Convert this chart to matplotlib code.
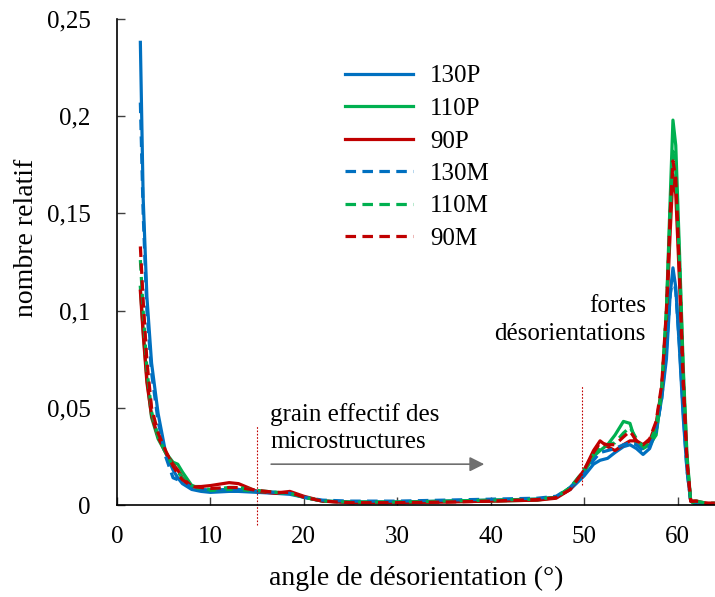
import matplotlib
matplotlib.use("Agg")
import matplotlib.pyplot as plt

plt.rcParams['font.family'] = ['Liberation Serif', 'DejaVu Serif']

angle = [2.5, 2.8, 3.2, 3.7, 4.4, 5.2, 6.0, 6.5, 7.0, 8.0, 9.0, 10, 12, 13, 15, 17, 18.5, 20,
         22, 25, 30, 35, 40, 45, 47, 48.5, 50, 51, 51.7, 52.5, 53.3, 54.2, 54.9, 55.6, 56.3,
         57, 57.7, 58.3, 58.8, 59.2, 59.5, 59.8, 60.2, 60.6, 61.0, 61.4, 62, 63, 64]

p130 = [0.238, 0.158, 0.107, 0.073, 0.047, 0.027, 0.018, 0.014, 0.011, 0.008, 0.007, 0.0065,
        0.007, 0.007, 0.0065, 0.006, 0.0055, 0.004, 0.002, 0.0015, 0.0015, 0.002, 0.0025,
        0.003, 0.004, 0.008, 0.015, 0.021, 0.023, 0.024, 0.027, 0.030, 0.031, 0.029, 0.026,
        0.029, 0.038, 0.055, 0.075, 0.108, 0.122, 0.112, 0.080, 0.045, 0.018, 0.002, 0, 0, 0]
p110 = [0.112, 0.090, 0.065, 0.045, 0.034, 0.027, 0.022, 0.021, 0.017, 0.010, 0.008, 0.0075,
        0.008, 0.008, 0.007, 0.0065, 0.006, 0.004, 0.002, 0.0015, 0.0015, 0.0018, 0.002,
        0.0025, 0.004, 0.009, 0.017, 0.025, 0.028, 0.031, 0.036, 0.043, 0.042, 0.031, 0.029,
        0.031, 0.036, 0.058, 0.100, 0.157, 0.198, 0.185, 0.130, 0.071, 0.026, 0.002, 0, 0, 0]
p90 = [0.110, 0.088, 0.063, 0.046, 0.035, 0.027, 0.021, 0.018, 0.014, 0.0095, 0.0095, 0.010,
       0.0115, 0.011, 0.007, 0.006, 0.007, 0.0045, 0.002, 0.0012, 0.0012, 0.0015, 0.002,
       0.0025, 0.0035, 0.008, 0.018, 0.028, 0.033, 0.030, 0.028, 0.031, 0.033, 0.033, 0.031,
       0.033, 0.042, 0.060, 0.095, 0.140, 0.170, 0.160, 0.115, 0.062, 0.022, 0.002, 0.002,
       0.001, 0]
m130 = [0.207, 0.150, 0.100, 0.068, 0.043, 0.025, 0.014, 0.013, 0.012, 0.009, 0.008, 0.0075,
        0.008, 0.008, 0.007, 0.0065, 0.006, 0.004, 0.0025, 0.002, 0.002, 0.0025, 0.003,
        0.0035, 0.0045, 0.009, 0.016, 0.023, 0.027, 0.028, 0.029, 0.031, 0.032, 0.031, 0.028,
        0.030, 0.038, 0.055, 0.080, 0.108, 0.118, 0.110, 0.082, 0.048, 0.018, 0.002, 0, 0, 0]
m110 = [0.126, 0.100, 0.070, 0.048, 0.035, 0.027, 0.020, 0.017, 0.014, 0.010, 0.0085, 0.008,
        0.009, 0.009, 0.0075, 0.0065, 0.006, 0.004, 0.002, 0.0015, 0.0015, 0.002, 0.0025,
        0.003, 0.004, 0.009, 0.018, 0.026, 0.030, 0.031, 0.032, 0.037, 0.040, 0.034, 0.030,
        0.032, 0.040, 0.060, 0.100, 0.150, 0.182, 0.172, 0.125, 0.068, 0.024, 0.002, 0.002,
        0.001, 0.001]
m90 = [0.133, 0.105, 0.074, 0.050, 0.037, 0.028, 0.020, 0.016, 0.013, 0.0095, 0.009, 0.0085,
       0.009, 0.009, 0.0075, 0.0065, 0.0065, 0.004, 0.002, 0.0012, 0.0012, 0.0015, 0.002,
       0.0028, 0.0038, 0.008, 0.018, 0.027, 0.032, 0.031, 0.031, 0.035, 0.038, 0.033, 0.031,
       0.034, 0.043, 0.062, 0.100, 0.150, 0.177, 0.168, 0.120, 0.065, 0.023, 0.002, 0.002,
       0.001, 0.001]

xticks = [0, 10, 20, 30, 40, 50, 60]
yticks = [0, 0.05, 0.1, 0.15, 0.2, 0.25]
ytick_labels = ['0', '0,05', '0,1', '0,15', '0,2', '0,25']

blue, green, red = '#0070C0', '#00B050', '#C00000'

fig = plt.figure(figsize=(7.15, 5.97), dpi=100)
ax = fig.add_axes([117/715, 92/597, 598/715, 486/597])

lw = 2.3
ax.plot(angle, p130, color=blue, lw=lw, label='130P')
ax.plot(angle, p110, color=green, lw=lw, label='110P')
ax.plot(angle, p90, color=red, lw=lw, label='90P')
for ys, c, lab in [(m130, blue, '130M'), (m110, green, '110M'), (m90, red, '90M')]:
    line, = ax.plot(angle, ys, color=c, lw=lw, label=lab)
    line.set_dashes((3.3, 2.0))

ax.set_xlim(0, 64)
ax.set_ylim(0, 0.25)
ax.set_xticks(xticks)
ax.set_yticks(yticks)
ax.set_yticklabels(ytick_labels)
ax.spines['top'].set_visible(False)
ax.spines['right'].set_visible(False)
for s in ['left', 'bottom']:
    ax.spines[s].set_linewidth(1.2)
ax.tick_params(axis='both', direction='in', length=6, width=1, color='#404040',
               labelsize=18)
ax.tick_params(axis='y', pad=19)
ax.tick_params(axis='x', pad=15)

ax.set_xlabel('angle de désorientation (°)', fontsize=20)
ax.set_ylabel('nombre relatif', fontsize=20)
ax.xaxis.set_label_coords(0.5, -0.125)
ax.yaxis.set_label_coords(-0.13, 0.55)

# dotted markers
ax.plot([15, 15], [-0.0103, 0.041], color=red, lw=0.8, ls=(0, (1.5, 1.5)), clip_on=False)
ax.plot([49.8, 49.8], [0.0103, 0.0617], color=red, lw=0.8, ls=(0, (1.5, 1.5)), clip_on=False)

ax.text(56.6, 0.095, 'fortes\ndésorientations', ha='right', va='center',
        multialignment='right', fontsize=18, linespacing=1.35)
ax.text(16.4, 0.0396, 'grain effectif des\nmicrostructures', ha='left', va='center',
        fontsize=18, linespacing=1.35)
ax.annotate('', xy=(39.6, 0.021), xytext=(16.2, 0.021),
            arrowprops=dict(arrowstyle='-|>', color='#6f6f6f', lw=1.2, mutation_scale=22))

ax.legend(loc='upper left', bbox_to_anchor=(218/598, 1 - 36/486),
          frameon=False, fontsize=18, handlelength=2.7, labelspacing=0.4,
          handletextpad=0.7, borderaxespad=0)

fig.savefig('out.png', dpi=100)
